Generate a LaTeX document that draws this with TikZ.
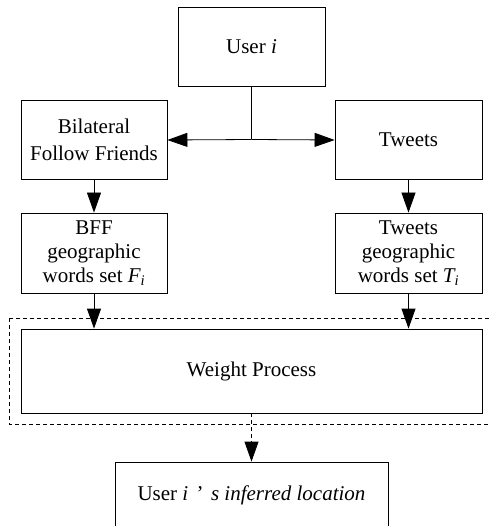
\documentclass[tikz,border=0pt]{standalone}
\usepackage{fontspec}
\setmainfont{Liberation Serif}
\usetikzlibrary{arrows.meta}
\begin{document}
\begin{tikzpicture}[x=1pt,y=-1pt,
  box/.style={draw,line width=0.8pt,align=center,inner sep=0pt,font=\fontsize{21}{24}\selectfont},
  arr/.style={line width=0.8pt,-{Triangle[length=20pt,width=14pt]}},
  conn/.style={line width=0.8pt}]
\useasboundingbox (0,0) rectangle (489,526);
\node[box,minimum width=147pt,minimum height=79pt] (user) at (251.5,46.5) {User \textit{i}};
\node[box,minimum width=146pt,minimum height=79pt,font=\fontsize{21}{27}\selectfont] (bff) at (94,140) {Bilateral\\Follow Friends};
\node[box,minimum width=147pt,minimum height=79pt] (tw) at (408.5,140) {Tweets};
\node[box,minimum width=146pt,minimum height=80pt] (bffg) at (94,253) {BFF\\geographic\\words set \textit{F\textsubscript{i}}};
\node[box,minimum width=147pt,minimum height=80pt] (twg) at (408.5,253) {Tweets\\geographic\\words set \textit{T\textsubscript{i}}};
\node[box,minimum width=461pt,minimum height=84pt] (wp) at (251.5,371) {Weight Process};
\node[box,minimum width=273pt,minimum height=66pt] (loc) at (251.5,495) {User \textit{i}\hspace{0.4em}’\hspace{0.35em}\textit{s inferred location}};
\coordinate (j) at (251.5,139.5);
\draw[conn] (user.south) -- (j);
\draw[arr] (j) -- (bff.east);
\draw[arr] (j) -- (tw.west);
\draw[arr] (bff.south) -- (bffg.north);
\draw[arr] (tw.south) -- (twg.north);
\draw[arr] (bffg.south) -- (bffg.south |- wp.north);
\draw[arr] (twg.south) -- (twg.south |- wp.north);
\draw[line width=0.7pt,dash pattern=on 4pt off 3pt] (9,318) rectangle (500,424);
\draw[arr,dash pattern=on 4pt off 3pt] (wp.south) -- (loc.north);
\end{tikzpicture}
\end{document}
